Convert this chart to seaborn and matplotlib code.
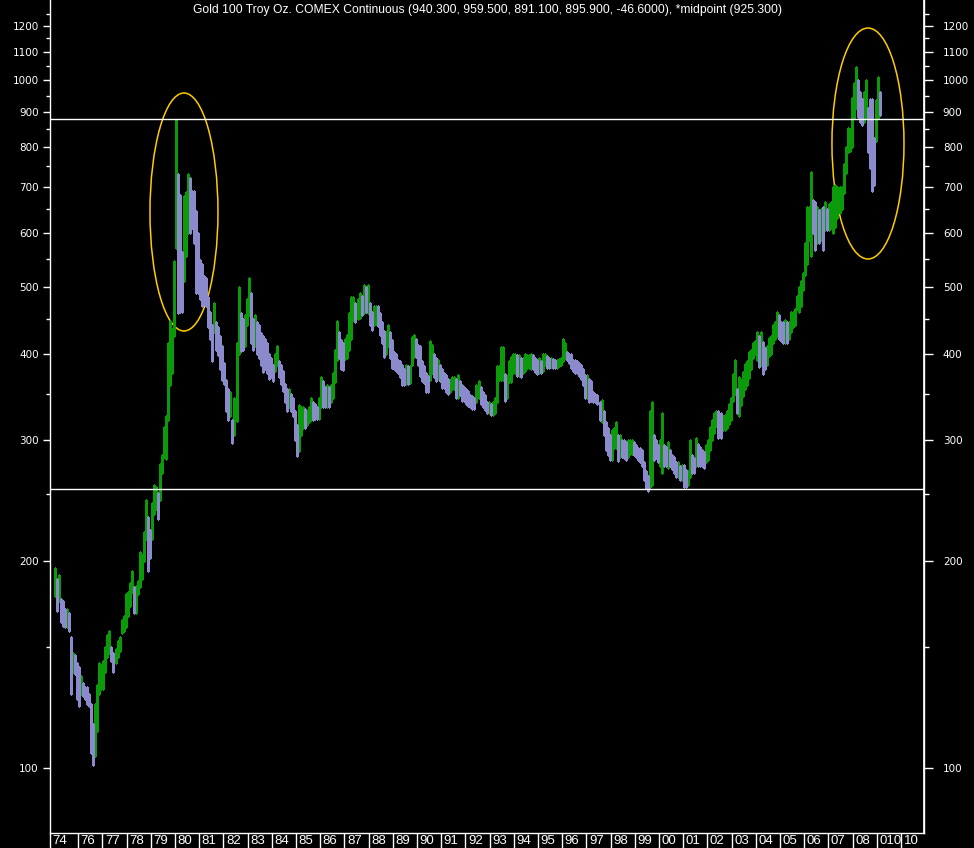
import numpy as np
import pandas as pd
import matplotlib
matplotlib.use("Agg")
import matplotlib.pyplot as plt
import seaborn as sns
from matplotlib.patches import Ellipse
from matplotlib.ticker import FixedLocator, NullFormatter

# Monthly high / low of the continuous gold contract (Jan 1975 - Feb 2009)
start_month = "1975-01"
highs = [
    195, 188, 191, 176, 175, 170, 170, 168, 155, 147, 146, 142,   # 1975
    140, 136, 133, 131, 131, 128, 124, 116, 124, 132, 142, 141,   # 1976
    143, 150, 156, 158, 150, 147, 149, 153, 155, 164, 166, 179,   # 1977
    180, 186, 193, 183, 184, 187, 206, 204, 220, 245, 232, 222,   # 1978
    243, 258, 256, 251, 277, 285, 313, 325, 415, 447, 434, 546,   # 1979
    876, 730, 680, 563, 678, 688, 730, 720, 690, 690, 645, 600,   # 1980
    548, 540, 519, 515, 484, 460, 440, 474, 445, 438, 424, 410,   # 1981
    388, 367, 355, 352, 320, 345, 415, 500, 458, 450, 455, 480,   # 1982
    516, 490, 450, 455, 445, 440, 429, 425, 420, 415, 400, 395,   # 1983
    385, 400, 410, 390, 385, 378, 362, 355, 355, 350, 345, 330,   # 1984
    315, 337, 335, 335, 332, 330, 335, 345, 340, 338, 335, 345,   # 1985
    370, 365, 358, 360, 358, 360, 375, 405, 446, 430, 419, 415,   # 1986
    420, 426, 458, 484, 484, 475, 480, 490, 485, 504, 500, 504,   # 1987
    474, 460, 470, 470, 470, 458, 445, 432, 430, 440, 430, 419,   # 1988
    402, 400, 392, 390, 385, 380, 385, 384, 384, 423, 426, 420,   # 1989
    412, 410, 390, 384, 375, 372, 417, 412, 400, 395, 392, 385,   # 1990
    380, 375, 373, 368, 366, 370, 370, 368, 373, 365, 360, 358,   # 1991
    355, 353, 348, 347, 345, 360, 365, 358, 352, 348, 340, 340,   # 1992
    338, 340, 345, 384, 384, 409, 409, 374, 372, 390, 396, 400,   # 1993
    400, 398, 398, 395, 395, 400, 398, 398, 400, 398, 395, 392,   # 1994
    395, 390, 400, 400, 397, 395, 395, 393, 392, 392, 393, 395,   # 1995
    420, 415, 402, 400, 400, 392, 392, 390, 388, 385, 380, 373,   # 1996
    373, 368, 365, 352, 350, 348, 340, 343, 330, 318, 312, 305,   # 1997
    310, 312, 318, 305, 305, 300, 300, 298, 300, 300, 300, 298,   # 1998
    295, 292, 292, 290, 278, 270, 266, 330, 340, 305, 300, 295,   # 1999
    300, 328, 295, 293, 298, 290, 285, 283, 278, 278, 275, 276,   # 2000
    276, 271, 270, 300, 285, 282, 302, 296, 293, 290, 288, 295,   # 2001
    300, 313, 320, 328, 330, 330, 328, 325, 326, 330, 338, 345,   # 2002
    374, 392, 355, 370, 367, 376, 387, 390, 402, 405, 415, 418,   # 2003
    430, 425, 431, 416, 408, 410, 422, 425, 440, 445, 460, 455,   # 2004
    445, 445, 448, 445, 445, 460, 460, 465, 485, 500, 510, 525,   # 2005
    580, 655, 655, 735, 670, 664, 655, 648, 650, 655, 664, 650,   # 2006
    660, 665, 700, 705, 700, 700, 700, 755, 800, 852, 850, 942,   # 2007
    990, 1045, 1000, 960, 940, 960, 1000, 910, 940, 940, 825, 935,  # 2008
    1010, 960,                                                    # 2009
]
lows = [
    178, 169, 175, 163, 161, 160, 160, 158, 128, 138, 137, 126,   # 1975
    123, 128, 127, 126, 124, 123, 105, 101, 104, 113, 128, 130,   # 1976
    130, 138, 145, 147, 143, 138, 142, 145, 148, 157, 158, 160,   # 1977
    166, 172, 180, 168, 168, 179, 183, 188, 200, 215, 193, 202,   # 1978
    215, 234, 238, 230, 245, 268, 283, 281, 320, 360, 375, 425,   # 1979
    570, 458, 460, 460, 510, 555, 600, 600, 610, 580, 490, 490,   # 1980
    480, 470, 472, 470, 438, 420, 390, 431, 405, 398, 380, 367,   # 1981
    361, 330, 320, 325, 297, 305, 319, 400, 404, 405, 410, 440,   # 1982
    455, 415, 405, 410, 400, 395, 385, 376, 380, 375, 368, 370,   # 1983
    365, 378, 385, 370, 362, 353, 340, 330, 335, 330, 325, 300,   # 1984
    284, 289, 305, 312, 312, 315, 318, 321, 321, 322, 322, 322,   # 1985
    335, 335, 335, 335, 335, 340, 345, 364, 392, 395, 380, 379,   # 1986
    393, 395, 405, 420, 448, 445, 450, 451, 455, 458, 460, 458,   # 1987
    440, 433, 440, 442, 439, 426, 415, 396, 400, 410, 395, 381,   # 1988
    380, 378, 375, 370, 360, 360, 362, 362, 363, 385, 396, 396,   # 1989
    385, 371, 365, 363, 352, 352, 366, 375, 370, 365, 368, 365,   # 1990
    357, 357, 352, 350, 352, 355, 355, 345, 345, 348, 342, 342,   # 1991
    338, 336, 335, 333, 333, 340, 345, 338, 335, 331, 328, 328,   # 1992
    326, 326, 328, 340, 366, 366, 366, 342, 345, 364, 364, 375,   # 1993
    375, 372, 372, 370, 375, 378, 382, 382, 380, 380, 376, 374,   # 1994
    375, 375, 378, 385, 382, 382, 383, 382, 382, 382, 384, 385,   # 1995
    390, 395, 392, 388, 382, 378, 375, 375, 372, 368, 360, 345,   # 1996
    345, 340, 342, 340, 340, 338, 320, 318, 305, 290, 285, 280,   # 1997
    280, 292, 292, 279, 283, 283, 282, 280, 283, 286, 286, 285,   # 1998
    283, 280, 278, 275, 262, 255, 253, 256, 258, 280, 282, 278,   # 1999
    275, 268, 275, 275, 273, 275, 272, 268, 265, 265, 262, 262,   # 2000
    256, 256, 258, 265, 268, 268, 275, 275, 275, 275, 273, 278,   # 2001
    280, 290, 300, 307, 314, 302, 302, 310, 310, 312, 316, 320,   # 2002
    342, 350, 328, 325, 337, 347, 355, 360, 369, 380, 395, 400,   # 2003
    392, 383, 385, 374, 380, 385, 397, 400, 415, 420, 425, 420,   # 2004
    418, 415, 415, 415, 420, 430, 437, 440, 465, 460, 470, 495,   # 2005
    520, 540, 585, 555, 600, 567, 580, 580, 585, 567, 605, 605,   # 2006
    605, 610, 600, 612, 630, 640, 650, 685, 733, 787, 790, 800,   # 2007
    880, 910, 885, 870, 860, 870, 880, 785, 745, 690, 705, 815,   # 2008
    880, 891,                                                     # 2009
]

price_ticks = [100, 200, 300, 400, 500, 600, 700, 800, 900, 1000, 1100, 1200]
minor_ticks = [150, 250, 350, 450, 550, 650, 750, 850, 950, 1050, 1150, 1250]
year_ticks = list(range(1976, 2011))
year_labels = ["76", "77", "78", "79", "80", "81", "82", "83", "84", "85",
               "86", "87", "88", "89", "90", "91", "92", "93", "94", "95",
               "96", "97", "98", "99", "00", "01", "02", "03", "04", "05",
               "06", "07", "08", "010", "10"]
first_label = "74"
levels = [877, 254]
title = ("Gold 100 Troy Oz. COMEX Continuous (940.300, 959.500, 891.100, "
         "895.900, -46.6000), *midpoint (925.300)")

# ---- build long table: one low/high pair per monthly bar ----
dates = pd.date_range(start_month, periods=len(highs), freq="MS")
t = dates.year + (dates.month - 0.5) / 12
hi = np.array(highs, dtype=float)
lo = np.array(lows, dtype=float)
mid = (hi + lo) / 2
direction = np.where(np.diff(mid, prepend=mid[0]) >= 0, "up", "down")

df = pd.DataFrame({
    "t": np.repeat(t, 2),
    "price": np.column_stack([lo, hi]).ravel(),
    "bar": np.repeat(np.arange(len(hi)), 2),
    "dir": np.repeat(direction, 2),
})

# ---- style ----
sns.set_theme(style="dark", rc={"axes.facecolor": "black", "figure.facecolor": "black"})
plt.rcParams["font.family"] = ["DejaVu Sans"]
narrow = ["Liberation Sans Narrow", "Liberation Sans", "DejaVu Sans"]

fig = plt.figure(figsize=(9.74, 8.48), dpi=100)
ax = fig.add_axes([50 / 974, 15 / 848, 874 / 974, 833 / 848])
ax.set_facecolor("black")

sns.lineplot(data=df, x="t", y="price", units="bar", estimator=None, hue="dir",
             palette={"up": "#0a9a0a", "down": "#8a8acc"}, legend=False,
             linewidth=1.0, antialiased=False, ax=ax)

x_left, x_right = 1974.835, 2010.95
ax.set_yscale("log")
ax.set_ylim(80.4, 1308)
ax.set_xlim(x_left, x_right)
ax.set_xlabel("")
ax.set_ylabel("")
ax.grid(False)

for lvl in levels:
    ax.axhline(lvl, color="white", lw=1.0)

# circled areas
ax.add_patch(Ellipse((0.1533, 0.7455), 0.0778, 0.2857, transform=ax.transAxes,
                     fill=False, ec="#ffcc00", lw=1.1))
ax.add_patch(Ellipse((0.9359, 0.8277), 0.0824, 0.2773, transform=ax.transAxes,
                     fill=False, ec="#ffcc00", lw=1.1))

ax.text(0.5, 1 - 10 / 833, title, transform=ax.transAxes, ha="center", va="center",
        color="white", fontsize=8.7, family=narrow)

# spines
for side in ["left", "right", "bottom"]:
    ax.spines[side].set_visible(True)
    ax.spines[side].set_color("white")
    ax.spines[side].set_linewidth(1)
ax.spines["top"].set_visible(False)

# left price axis
ax.yaxis.set_major_locator(FixedLocator(price_ticks))
ax.yaxis.set_minor_locator(FixedLocator(minor_ticks))
ax.set_yticklabels([str(p) for p in price_ticks])
ax.yaxis.set_minor_formatter(NullFormatter())
ax.tick_params(axis="y", which="major", left=True, right=False, length=5.2, width=1,
               color="white", labelcolor="white", labelsize=7.5, pad=3)
ax.tick_params(axis="y", which="minor", left=True, right=False, length=3, width=1,
               color="white")

# right price axis
ax2 = ax.twinx()
ax2.set_yscale("log")
ax2.set_ylim(ax.get_ylim())
ax2.yaxis.set_major_locator(FixedLocator(price_ticks))
ax2.yaxis.set_minor_locator(FixedLocator(minor_ticks))
ax2.set_yticklabels([str(p) for p in price_ticks])
ax2.yaxis.set_minor_formatter(NullFormatter())
ax2.tick_params(axis="y", which="major", right=True, left=False, length=6.5, width=1,
                color="white", labelcolor="white", labelsize=7.5, pad=7)
ax2.tick_params(axis="y", which="minor", right=True, left=False, length=3.5, width=1,
                color="white")
ax2.grid(False)
for side in ["left", "top", "bottom"]:
    ax2.spines[side].set_visible(False)
ax2.spines["right"].set_color("white")

# year boxes along the bottom
ax.set_xticks([x_left] + year_ticks)
ax.tick_params(axis="x", which="major", bottom=True, length=11, width=1,
               color="white", labelbottom=False, direction="out")
ax.tick_params(axis="x", which="minor", bottom=False)
for yr, lab in zip([x_left] + year_ticks, [first_label] + year_labels):
    ax.annotate(lab, xy=(yr, 0), xycoords=("data", "axes fraction"),
                xytext=(1.8, -1.2), textcoords="offset points", ha="left", va="top",
                color="white", fontsize=9.5, family=narrow, annotation_clip=False)

fig.savefig("out.png", dpi=100, facecolor="black")
